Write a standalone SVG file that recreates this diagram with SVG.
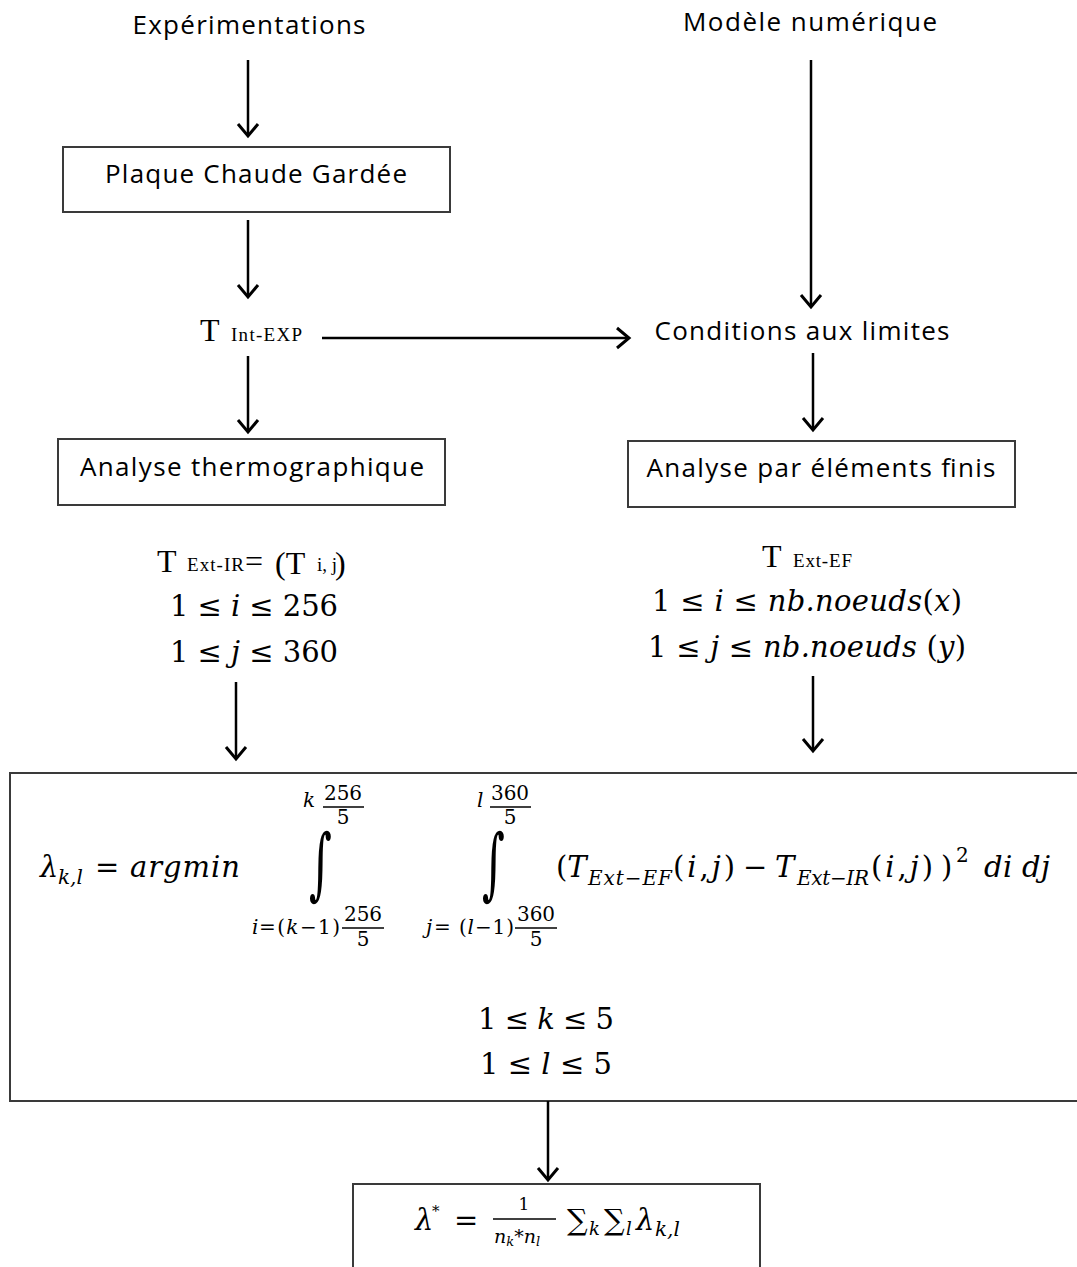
<svg xmlns="http://www.w3.org/2000/svg" width="1077" height="1267" viewBox="0 0 1077 1267">
<defs>
<marker id="ah" markerUnits="userSpaceOnUse" markerWidth="30" markerHeight="30" viewBox="-15 -15 30 30" refX="0" refY="0" orient="auto" overflow="visible">
<path d="M-12,-10 L0,0 L-12,10" fill="none" stroke="#000" stroke-width="3"/>
</marker>
<style>
.box{fill:#fff;stroke:#3a3a3a;stroke-width:2}
.lbl{font-family:"Open Sans","Noto Sans",sans-serif;font-size:26px;fill:#000}
.m{font-family:"DejaVu Serif","Liberation Serif",serif;font-size:29px;fill:#000}
.mi{font-family:"DejaVu Serif","Liberation Serif",serif;font-style:italic;font-size:29px;fill:#000}
.t{font-family:"Liberation Serif",serif;font-size:32px;fill:#000}
.ts{font-family:"Liberation Serif",serif;font-size:19px;fill:#000}
.sm{font-family:"DejaVu Serif","Liberation Serif",serif;font-size:20px;fill:#000}
.smi{font-family:"DejaVu Serif","Liberation Serif",serif;font-style:italic;font-size:20px;fill:#000}
.int{font-family:"DejaVu Serif","Liberation Serif",serif;font-size:44px;fill:#000}
.conn line{stroke:#000;stroke-width:2.5;marker-end:url(#ah)}
</style>
</defs>
<rect width="1077" height="1267" fill="#fff"/>

<g id="n-exp"><text class="lbl" x="249" y="34" text-anchor="middle" textLength="233">Expérimentations</text></g>
<g id="n-mod"><text class="lbl" x="810" y="31" text-anchor="middle" textLength="254">Modèle numérique</text></g>
<g id="n-pcg"><rect class="box" x="63" y="147" width="387" height="65"/><text class="lbl" x="256" y="183" text-anchor="middle" textLength="302">Plaque Chaude Gardée</text></g>
<g id="n-tint"><text class="t" x="200" y="341">T</text><text class="ts" x="231" y="341" textLength="71">Int-EXP</text></g>
<g id="n-cond"><text class="lbl" x="802" y="340" text-anchor="middle" textLength="295">Conditions aux limites</text></g>
<g id="n-thermo"><rect class="box" x="58" y="439" width="387" height="66"/><text class="lbl" x="252" y="476" text-anchor="middle" textLength="344">Analyse thermographique</text></g>
<g id="n-ef"><rect class="box" x="628" y="441" width="387" height="66"/><text class="lbl" x="821" y="477" text-anchor="middle" textLength="349">Analyse par éléments finis</text></g>

<g id="n-tir">
<text class="t" x="157" y="572">T</text><text class="ts" x="187" y="571" textLength="57">Ext-IR</text><text class="t" x="245" y="572">=</text><text class="t" x="275" y="574">(T</text><text class="ts" x="317" y="571">i, j</text><text class="t" x="335" y="574">)</text>
<text class="m" x="254" y="616" text-anchor="middle" textLength="168">1 ≤ <tspan class="mi">i</tspan> ≤ 256</text>
<text class="m" x="254" y="662" text-anchor="middle" textLength="168">1 ≤ <tspan class="mi">j</tspan> ≤ 360</text>
</g>

<g id="n-tef">
<text class="t" x="762" y="567">T</text><text class="ts" x="793" y="567" textLength="59">Ext-EF</text>
<text class="m" x="807" y="611" text-anchor="middle" textLength="310">1 ≤ <tspan class="mi">i</tspan> ≤ <tspan class="mi">nb.noeuds</tspan>(<tspan class="mi">x</tspan>)</text>
<text class="m" x="807" y="657" text-anchor="middle" textLength="318">1 ≤ <tspan class="mi">j</tspan> ≤ <tspan class="mi">nb.noeuds</tspan> (<tspan class="mi">y</tspan>)</text>
</g>

<g id="n-lambda">
<rect class="box" x="10" y="773" width="1080" height="328"/>
<text class="mi" x="40" y="877">λ</text><text class="smi" x="58" y="884">k,l</text>
<text class="m" x="95" y="877">=</text>
<text class="mi" x="130" y="877" textLength="110">argmin</text>
<!-- integral 1 -->
<text class="smi" x="303" y="807">k</text>
<text class="sm" x="343" y="800" text-anchor="middle">256</text>
<line x1="323" y1="807" x2="364" y2="807" stroke="#000" stroke-width="1.5"/>
<text class="sm" x="343" y="824" text-anchor="middle">5</text>
<text class="int" transform="translate(309,890) scale(1,1.78)">∫</text>
<text class="smi" x="252" y="934">i</text><text class="sm" x="259" y="934" textLength="81">=(<tspan class="smi">k</tspan>−1)</text>
<text class="sm" x="363" y="921" text-anchor="middle">256</text>
<line x1="342" y1="928" x2="384" y2="928" stroke="#000" stroke-width="1.5"/>
<text class="sm" x="363" y="946" text-anchor="middle">5</text>
<!-- integral 2 -->
<text class="smi" x="477" y="807">l</text>
<text class="sm" x="510" y="800" text-anchor="middle">360</text>
<line x1="490" y1="807" x2="531" y2="807" stroke="#000" stroke-width="1.5"/>
<text class="sm" x="510" y="824" text-anchor="middle">5</text>
<text class="int" transform="translate(482,890) scale(1,1.78)">∫</text>
<text class="smi" x="426" y="934">j</text><text class="sm" x="434" y="934" textLength="80">= (<tspan class="smi">l</tspan>−1)</text>
<text class="sm" x="536" y="921" text-anchor="middle">360</text>
<line x1="515" y1="928" x2="557" y2="928" stroke="#000" stroke-width="1.5"/>
<text class="sm" x="536" y="946" text-anchor="middle">5</text>
<!-- integrand -->
<text class="m" x="556" y="877">(<tspan class="mi">T</tspan></text>
<text class="smi" x="588" y="885" textLength="84">Ext−EF</text>
<text class="m" x="673" y="877" textLength="62">(<tspan class="mi">i</tspan>,<tspan class="mi">j</tspan>)</text>
<text class="m" x="743" y="877">−</text>
<text class="mi" x="775" y="877">T</text>
<text class="smi" x="797" y="885" textLength="72">Ext−IR</text>
<text class="m" x="871" y="877" textLength="62">(<tspan class="mi">i</tspan>,<tspan class="mi">j</tspan>)</text>
<text class="m" x="941" y="877">)</text>
<text class="sm" x="956" y="862">2</text>
<text class="mi" x="984" y="877" textLength="66">di dj</text>
<text class="m" x="546" y="1029" text-anchor="middle" textLength="136">1 ≤ <tspan class="mi">k</tspan> ≤ 5</text>
<text class="m" x="546" y="1074" text-anchor="middle" textLength="132">1 ≤ <tspan class="mi">l</tspan> ≤ 5</text>
</g>

<g id="n-final">
<rect class="box" x="353" y="1184" width="407" height="100"/>
<text class="mi" x="415" y="1230">λ</text><text class="sm" x="432" y="1216" style="font-size:15px">*</text>
<text class="m" x="454" y="1230">=</text>
<text class="sm" x="524" y="1210" text-anchor="middle" style="font-size:17px">1</text>
<line x1="493" y1="1219" x2="556" y2="1219" stroke="#000" stroke-width="1.5"/>
<text class="smi" x="494" y="1243" style="font-size:19px">n<tspan style="font-size:13px" dy="3">k</tspan><tspan dy="-3">*n</tspan><tspan style="font-size:13px" dy="3">l</tspan></text>
<text class="m" x="567" y="1230">∑</text><text class="smi" x="589" y="1235" style="font-size:18px">k</text>
<text class="m" x="604" y="1230">∑</text><text class="smi" x="626" y="1235" style="font-size:18px">l</text>
<text class="mi" x="636" y="1230">λ</text><text class="smi" x="655" y="1236">k,l</text>
</g>

<g class="conn" id="connectors">
<line x1="248" y1="60" x2="248" y2="136"/>
<line x1="248" y1="220" x2="248" y2="297"/>
<line x1="248" y1="356" x2="248" y2="432"/>
<line x1="322" y1="338" x2="629" y2="338"/>
<line x1="811" y1="60" x2="811" y2="307"/>
<line x1="813" y1="353" x2="813" y2="430"/>
<line x1="236" y1="682" x2="236" y2="759"/>
<line x1="813" y1="676" x2="813" y2="751"/>
<line x1="548" y1="1101" x2="548" y2="1180"/>
</g>
</svg>
